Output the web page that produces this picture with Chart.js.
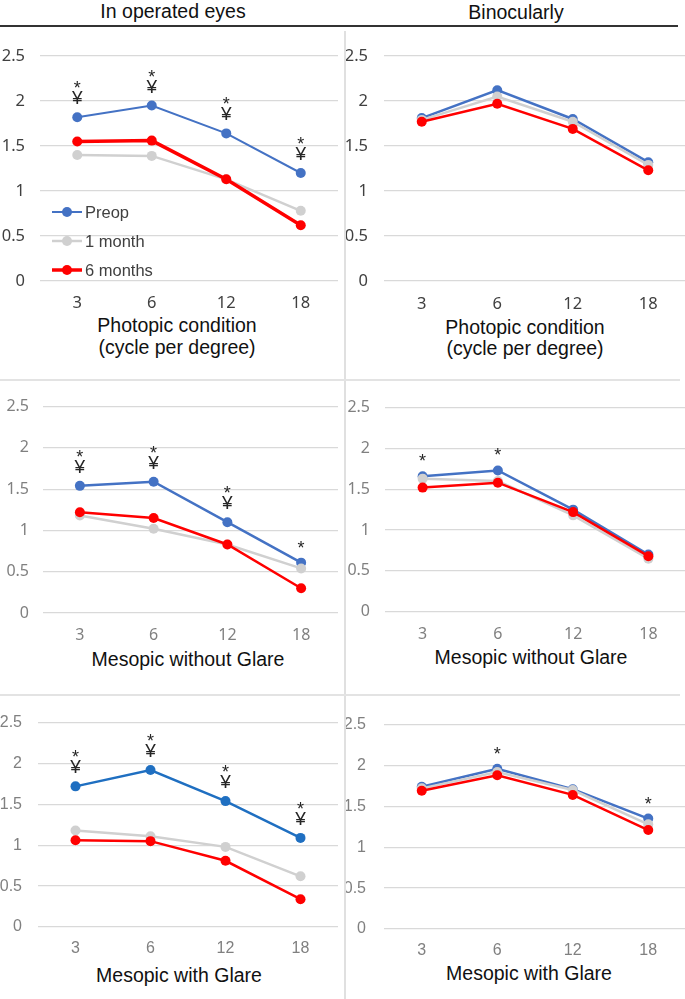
<!DOCTYPE html>
<html>
<head>
<meta charset="utf-8">
<script src="https://cdn.jsdelivr.net/npm/chart.js@4.4.1/dist/chart.umd.min.js"></script>
<style>
  html, body { margin: 0; padding: 0; background: #fff; width: 685px; height: 999px; overflow: hidden; position: relative; }
  canvas { position: absolute; }
  .txt { position: absolute; transform: translate(-50%, -50%); white-space: nowrap; font-family: 'Liberation Sans', Arial, sans-serif; font-size: 19.5px; color: #111; line-height: 22px; }
  .rule { position: absolute; }
</style>
</head>
<body>

<div class="txt" style="left:173px; top:11px;">In operated eyes</div>
<div class="txt" style="left:516px; top:12px;">Binocularly</div>
<div class="rule" style="left:0; top:25px; width:678px; height:2px; background:#333;"></div>
<div class="rule" style="left:344px; top:31px; width:2px; height:968px; background:#e0e0e0;"></div>
<div class="rule" style="left:0; top:379px; width:680px; height:2px; background:#e3e3e3;"></div>
<div class="rule" style="left:0; top:694px; width:680px; height:2px; background:#e3e3e3;"></div>

<div class="txt" style="left:177px; top:325px;">Photopic condition</div>
<div class="txt" style="left:177px; top:347px;">(cycle per degree)</div>
<div class="txt" style="left:525px; top:327px;">Photopic condition</div>
<div class="txt" style="left:525px; top:348px;">(cycle per degree)</div>
<div class="txt" style="left:188px; top:659px;">Mesopic without Glare</div>
<div class="txt" style="left:531px; top:657px;">Mesopic without Glare</div>
<div class="txt" style="left:179px; top:975px;">Mesopic with Glare</div>
<div class="txt" style="left:529px; top:973px;">Mesopic with Glare</div>

<script>
// categories and axis ticks
const cpd = ['3', '6', '12', '18'];
const yTicks = [0, 0.5, 1, 1.5, 2, 2.5];
const seriesNames = ['Preop', '1 month', '6 months'];

// Photopic, operated eyes
const photoOpPreop = [1.82, 1.95, 1.64, 1.20];
const photoOp1m    = [1.40, 1.39, 1.13, 0.78];
const photoOp6m    = [1.55, 1.56, 1.13, 0.62];
const photoOpSig   = ['*¥', '*¥', '*¥', '*¥'];

// Photopic, binocular
const photoBiPreop = [1.81, 2.12, 1.80, 1.32];
const photoBi1m    = [1.79, 2.05, 1.77, 1.29];
const photoBi6m    = [1.77, 1.97, 1.69, 1.23];
const photoBiSig   = ['', '', '', ''];

// Mesopic without glare, operated eyes
const mesoOpPreop = [1.54, 1.59, 1.10, 0.61];
const mesoOp1m    = [1.18, 1.02, 0.83, 0.54];
const mesoOp6m    = [1.22, 1.15, 0.83, 0.30];
const mesoOpSig   = ['*¥', '*¥', '*¥', '*'];

// Mesopic without glare, binocular
const mesoBiPreop = [1.66, 1.73, 1.25, 0.70];
const mesoBi1m    = [1.63, 1.60, 1.18, 0.65];
const mesoBi6m    = [1.52, 1.58, 1.22, 0.68];
const mesoBiSig   = ['*', '*', '', ''];

// Mesopic with glare, operated eyes
const glareOpPreop = [1.72, 1.92, 1.54, 1.09];
const glareOp1m    = [1.18, 1.11, 0.98, 0.62];
const glareOp6m    = [1.06, 1.05, 0.81, 0.34];
const glareOpSig   = ['*¥', '*¥', '*¥', '*¥'];

// Mesopic with glare, binocular
const glareBiPreop = [1.74, 1.96, 1.71, 1.35];
const glareBi1m    = [1.72, 1.92, 1.70, 1.28];
const glareBi6m    = [1.69, 1.88, 1.64, 1.21];
const glareBiSig   = ['', '*', '', '*'];

const RED = '#ff0000';
const GRAY = '#d0d0d0';

// significance symbols stacked above the Preop points
const sigMarks = {
  id: 'sigMarks',
  afterDatasetsDraw(chart, args, opts) {
    if (!opts.marks) return;
    const ctx = chart.ctx;
    const xs = chart.scales.x, ys = chart.scales.y;
    const preop = chart.data.datasets[0].data;
    ctx.save();
    ctx.fillStyle = '#262626';
    ctx.textAlign = 'center';
    ctx.textBaseline = 'alphabetic';
    opts.marks.forEach((m, i) => {
      const px = xs.getPixelForValue(i);
      const py = ys.getPixelForValue(preop[i]);
      Array.from(m).reverse().forEach((c, k) => {
        const cy = py - 20 - 14 * k;
        if (c === '*') {
          ctx.font = '18px "Liberation Sans", Arial';
          ctx.fillText(c, px, cy + 11);
        } else {
          ctx.font = '19px "Liberation Sans", Arial';
          ctx.fillText(c, px, cy + 7);
        }
      });
    });
    ctx.restore();
  }
};

// legend drawn inside the plot (first panel only)
const innerLegend = {
  id: 'innerLegend',
  afterDraw(chart, args, opts) {
    if (!opts.show) return;
    const ctx = chart.ctx;
    ctx.save();
    ctx.textBaseline = 'middle';
    ctx.font = '16.5px "Liberation Sans", Arial';
    chart.data.datasets.forEach((ds, i) => {
      const y = opts.y + i * opts.gap;
      ctx.strokeStyle = ds.borderColor;
      ctx.lineWidth = ds.borderWidth;
      ctx.beginPath();
      ctx.moveTo(opts.x, y);
      ctx.lineTo(opts.x + 30, y);
      ctx.stroke();
      ctx.fillStyle = ds.borderColor;
      ctx.beginPath();
      ctx.arc(opts.x + 15, y, ds.pointRadius, 0, Math.PI * 2);
      ctx.fill();
      ctx.fillStyle = '#404040';
      ctx.fillText(ds.label, opts.x + 33, y + 1);
    });
    ctx.restore();
  }
};

const panels = [
  { id: 'c1', left: 0,   top: 30,  w: 343, h: 300, area: [40, 342, 56, 281],
    data: [photoOpPreop, photoOp1m, photoOp6m], sig: photoOpSig, blue: '#4472c4',
    widths: [2, 2.5, 3.5], tick: { size: 16.5, family: '"Noto Sans"', color: '#404040', xPad: 12, yPad: 15 }, legend: true },
  { id: 'c2', left: 346, top: 30,  w: 345, h: 300, area: [384, 688, 56, 281],
    data: [photoBiPreop, photoBi1m, photoBi6m], sig: photoBiSig, blue: '#4472c4',
    widths: [2.5, 2.5, 2.5], tick: { size: 16.5, family: '"Noto Sans"', color: '#404040', xPad: 13, yPad: 16 } },
  { id: 'c3', left: 0,   top: 383, w: 343, h: 280, area: [43, 343, 398, 613],
    data: [mesoOpPreop, mesoOp1m, mesoOp6m], sig: mesoOpSig, blue: '#4472c4',
    widths: [2.5, 2.5, 2.5], tick: { size: 16, family: '"Noto Sans"', color: '#808080', xPad: 13, yPad: 14 } },
  { id: 'c4', left: 346, top: 383, w: 345, h: 280, area: [385, 689, 400.7, 611.7],
    data: [mesoBiPreop, mesoBi1m, mesoBi6m], sig: mesoBiSig, blue: '#4472c4',
    widths: [2.5, 2.5, 2.5], tick: { size: 16, family: '"Noto Sans"', color: '#808080', xPad: 13, yPad: 15 } },
  { id: 'c5', left: 0,   top: 697, w: 343, h: 270, area: [38, 342, 714, 927],
    data: [glareOpPreop, glareOp1m, glareOp6m], sig: glareOpSig, blue: '#1f6fc1',
    widths: [2.5, 2.5, 2.5], tick: { size: 16, family: '"Liberation Sans Narrow", "Liberation Sans"', color: '#808080', xPad: 12, yPad: 16 } },
  { id: 'c6', left: 346, top: 697, w: 345, h: 270, area: [384, 688, 714, 929],
    data: [glareBiPreop, glareBi1m, glareBi6m], sig: glareBiSig, blue: '#4472c4',
    widths: [2.5, 2.5, 2.5], tick: { size: 16, family: '"Liberation Sans Narrow", "Liberation Sans"', color: '#808080', xPad: 12, yPad: 18 } }
];

panels.forEach(p => {
  const cv = document.createElement('canvas');
  cv.id = p.id;
  cv.width = p.w;
  cv.height = p.h;
  cv.style.left = p.left + 'px';
  cv.style.top = p.top + 'px';
  document.body.appendChild(cv);

  const [aL, aR, aT, aB] = p.area;
  const yWidth = aL - p.left;
  const padTop = aT - p.top;
  const padRight = p.left + p.w - aR;
  const xHeight = p.top + p.h - aB;
  const colors = [p.blue, GRAY, RED];
  const tickFont = { size: p.tick.size, family: p.tick.family };

  new Chart(cv, {
    type: 'line',
    data: {
      labels: cpd,
      datasets: p.data.map((d, i) => ({
        label: seriesNames[i],
        data: d,
        borderColor: colors[i],
        backgroundColor: colors[i],
        borderWidth: p.widths[i],
        pointRadius: 5,
        pointBorderWidth: 0,
        pointHoverRadius: 5,
        tension: 0,
        order: 3 - i
      }))
    },
    options: {
      responsive: false,
      animation: false,
      layout: { padding: { left: 0, top: padTop, right: padRight, bottom: 0 } },
      plugins: {
        legend: { display: false },
        tooltip: { enabled: false },
        sigMarks: { marks: p.sig },
        innerLegend: { show: !!p.legend, x: 52, y: 182, gap: 29 }
      },
      scales: {
        x: {
          type: 'category',
          offset: true,
          grid: { display: false, drawTicks: false },
          border: { display: false },
          ticks: { color: p.tick.color, font: tickFont, padding: p.tick.xPad, maxRotation: 0 },
          afterFit: s => { s.height = xHeight; }
        },
        y: {
          min: 0,
          max: 2.5,
          afterBuildTicks: s => { s.ticks = yTicks.map(v => ({ value: v })); },
          grid: { color: '#d9d9d9', lineWidth: 1.3, drawTicks: false },
          border: { display: false },
          ticks: { color: p.tick.color, font: tickFont, padding: p.tick.yPad, callback: v => String(v) },
          afterFit: s => { s.width = yWidth; }
        }
      }
    },
    plugins: [sigMarks, innerLegend]
  });
});
</script>
</body>
</html>
